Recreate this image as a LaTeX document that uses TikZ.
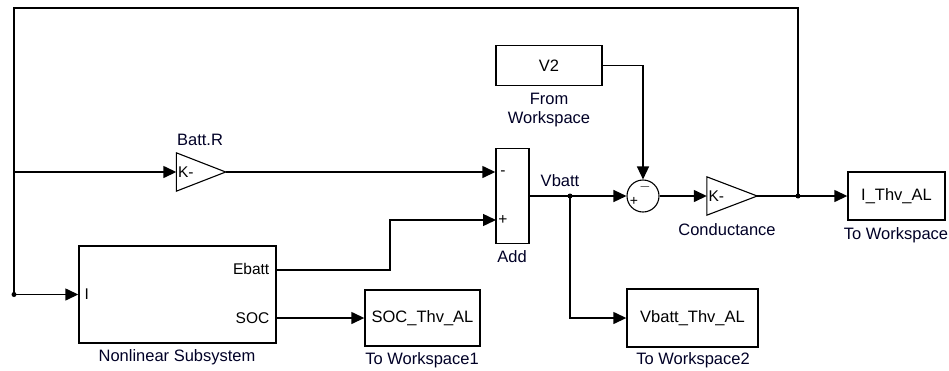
\documentclass[tikz,border=0pt]{standalone}
\usepackage{fontspec}
\setmainfont{Liberation Sans}
\usetikzlibrary{arrows.meta}
\begin{document}
\begin{tikzpicture}[x=1pt,y=-1pt,line width=1.4pt,
  blk/.style={draw,rectangle,inner sep=0pt,line width=1.4pt,font=\fontsize{16.5}{18}\selectfont},
  gainbox/.style={rectangle,inner sep=0pt},
  lbl/.style={font=\fontsize{16.5}{18}\selectfont,inner sep=0pt,text=black!85!blue},
  port/.style={font=\fontsize{15.5}{17}\selectfont,inner sep=0pt},
  sig/.style={-{Triangle[length=13pt,width=12pt]},line width=1.4pt},
  jdot/.style={circle,fill,inner sep=0pt,minimum size=5pt}]
\useasboundingbox (0,0) rectangle (949,370);
% blocks
\node[gainbox,minimum width=48pt,minimum height=37pt] (gR) at (201,172) {};
\draw[line width=1.1pt] (gR.north west) -- (gR.east) -- (gR.south west) -- cycle;
\node[port,anchor=west] (kR) at ([xshift=1pt]gR.west) {K-};
\node[gainbox,minimum width=49pt,minimum height=37pt] (gC) at (732,196) {};
\draw[line width=1.1pt] (gC.north west) -- (gC.east) -- (gC.south west) -- cycle;
\node[port,anchor=west] (kC) at ([xshift=1pt]gC.west) {K-};
\node[blk,minimum width=33pt,minimum height=95pt] (add) at (512.5,196) {};
\node[draw,circle,inner sep=0pt,minimum size=32pt,line width=1.1pt] (sum) at (643,196) {};
\node[blk,minimum width=106pt,minimum height=40pt] (v2) at (549,65.5) {V2};
\node[blk,minimum width=197pt,minimum height=97pt] (NL) at (177.5,294.5) {};
\node[blk,minimum width=115pt,minimum height=56pt] (soc) at (422.5,318) {SOC\_Thv\_AL};
\node[blk,minimum width=131pt,minimum height=58pt] (vb) at (692.5,318) {Vbatt\_Thv\_AL};
\node[blk,minimum width=97pt,minimum height=48pt] (iw) at (896.5,196) {I\_Thv\_AL};
% port texts
\node[port,anchor=east] (pE) at (270,269) {Ebatt};
\node[port,anchor=east] (pS) at (270,318) {SOC};
\node[port,anchor=west] (pI) at (84,294.5) {I};
\node[port] (am) at (503,173) {-};
\node[port] (ap) at (503,220) {+};
\node[port,font=\fontsize{14}{16}\selectfont] (sp) at (634,201) {+};
\node[port,font=\fontsize{14}{16}\selectfont] (sm) at (645,187) {$-$};
% labels
\node[lbl] (lR) at (200,140) {Batt.R};
\node[lbl] (lV) at (560,181) {Vbatt};
\node[lbl] (lA) at (512,257) {Add};
\node[lbl] (lF1) at (549,99) {From};
\node[lbl] (lF2) at (549,119) {Workspace};
\node[lbl] (lC) at (727,230) {Conductance};
\node[lbl] (lT) at (896,235) {To Workspace};
\node[lbl] (lT2) at (693,360) {To Workspace2};
\node[lbl] (lT1) at (422,360) {To Workspace1};
\node[lbl] (lN) at (177,357) {Nonlinear Subsystem};
% junctions
\coordinate (jI) at (798,196);
\coordinate (jL) at (14,294.5);
\coordinate (jR) at (14,172);
\coordinate (jV) at (570,196);
\coordinate (topL) at (14,8);
\coordinate (ebOut) at (276,270);
\coordinate (ebBend) at (390,270);
\coordinate (addP) at (496,220);
\coordinate (socOut) at (276,318);
% connectors
\draw (jI) |- (topL) -- (jL);
\draw[sig] (jL) -- (NL.west |- jL);
\draw[sig] (jR) -- (gR.west);
\draw[sig] (gR.east) -- (add.west |- gR.east);
\draw[sig] (ebOut) -- (ebBend) |- (addP);
\draw[sig] (socOut) -- (soc.west);
\draw[sig] (add.east) -- (sum.west);
\draw[sig] (jV) |- (vb.west);
\draw[sig] (v2.east) -| (sum.north);
\draw[sig] (sum.east) -- (gC.west);
\draw (gC.east) -- (jI);
\draw[sig] (jI) -- (iw.west);
\node[jdot] at (jI) {};
\node[jdot] at (jL) {};
\node[jdot] at (jV) {};
\end{tikzpicture}
\end{document}
